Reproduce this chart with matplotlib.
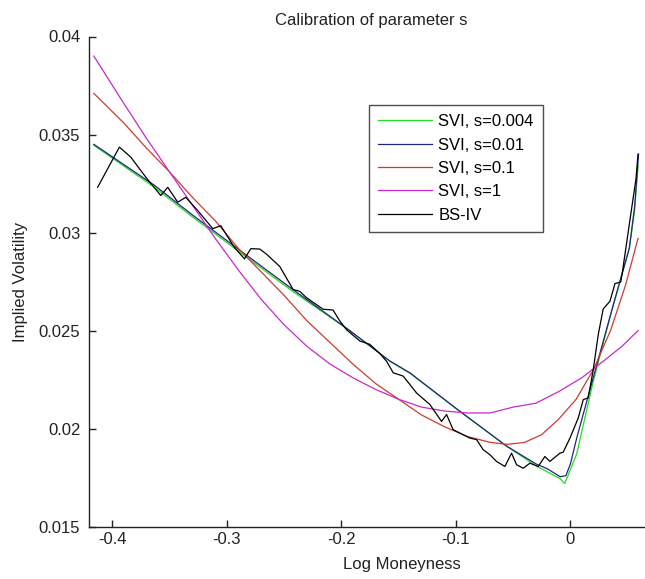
import matplotlib
matplotlib.use("Agg")
import matplotlib.pyplot as plt

plt.rcParams['font.family'] = ['Liberation Sans', 'DejaVu Sans']

# ---- data ----
k_svi = [-0.416, -0.3629, -0.3300, -0.2886, -0.2424, -0.1926, -0.1576, -0.1402,
         -0.0991, -0.0555, -0.0300, -0.0092, -0.0050, 0.0054, 0.0199, 0.0360,
         0.0514, 0.0560, 0.0590]
iv_s0004 = [0.03445, 0.0323, 0.0308, 0.0290, 0.0270, 0.0250, 0.02344, 0.02283,
            0.0210, 0.0191, 0.0181, 0.01746, 0.0172, 0.0187, 0.0224, 0.0260,
            0.0292, 0.0311, 0.0334]

k_s001 = [-0.416, -0.3629, -0.3300, -0.2886, -0.2424, -0.1926, -0.1576, -0.1402,
          -0.0991, -0.0555, -0.0300, -0.0200, -0.0090, -0.0040, 0.0000, 0.0054,
          0.0199, 0.0364, 0.0514, 0.0560, 0.0595]
iv_s001 = [0.03450, 0.0324, 0.0309, 0.0291, 0.0271, 0.0250, 0.02345, 0.02285,
           0.0210, 0.0191, 0.0182, 0.01795, 0.01755, 0.0176, 0.0182, 0.0195,
           0.0226, 0.0261, 0.0292, 0.0313, 0.0340]

k_grid = [-0.416, -0.39, -0.37, -0.35, -0.33, -0.31, -0.29, -0.27, -0.25, -0.23,
          -0.21, -0.19, -0.17, -0.15, -0.13, -0.11, -0.09, -0.07, -0.055, -0.04,
          -0.025, -0.01, 0.005, 0.02, 0.035, 0.048, 0.059]
iv_s01 = [0.0371, 0.0356, 0.0343, 0.0331, 0.0318, 0.0306, 0.0292, 0.0280, 0.0268,
          0.0255, 0.0244, 0.0233, 0.0223, 0.0215, 0.0207, 0.0201, 0.0196, 0.0193,
          0.0192, 0.0193, 0.0197, 0.0205, 0.0215, 0.0230, 0.0250, 0.0273, 0.0297]

k_s1 = [-0.416, -0.39, -0.37, -0.35, -0.33, -0.31, -0.29, -0.27, -0.25, -0.23,
        -0.21, -0.19, -0.17, -0.15, -0.13, -0.11, -0.09, -0.07, -0.05, -0.03,
        -0.01, 0.01, 0.03, 0.045, 0.059]
iv_s1 = [0.0390, 0.0366, 0.0348, 0.0331, 0.0314, 0.0297, 0.0281, 0.0266, 0.0253,
         0.0242, 0.0233, 0.0226, 0.0220, 0.0215, 0.0211, 0.0209, 0.0208, 0.0208,
         0.0211, 0.0213, 0.0219, 0.0226, 0.0235, 0.0242, 0.0250]

k_bs = [-0.4127, -0.3937, -0.3838, -0.3707, -0.3576, -0.3515, -0.3428, -0.3358,
        -0.3253, -0.3122, -0.3052, -0.2933, -0.2845, -0.2790, -0.2712, -0.2653,
        -0.2537, -0.2421, -0.2362, -0.2304, -0.2159, -0.2072, -0.2013, -0.1955,
        -0.1838, -0.1751, -0.1664, -0.1605, -0.1547, -0.1460, -0.1343, -0.1227,
        -0.1125, -0.1081, -0.1024, -0.0936, -0.0878, -0.0819, -0.0762, -0.0703,
        -0.0645, -0.0572, -0.0514, -0.0470, -0.0412, -0.0354, -0.0281, -0.0223,
        -0.0179, -0.0092, -0.0063, -0.0004, 0.0068, 0.0112, 0.0155, 0.0199,
        0.0243, 0.0286, 0.0345, 0.0389, 0.0439, 0.0454, 0.0528, 0.0572, 0.0590]
iv_bs = [0.03231, 0.03436, 0.03385, 0.03283, 0.03189, 0.03231, 0.03155, 0.03180,
         0.03112, 0.03020, 0.03035, 0.02924, 0.02866, 0.02918, 0.02916, 0.02890,
         0.02827, 0.02710, 0.02700, 0.02668, 0.02609, 0.02605, 0.02549, 0.02505,
         0.02447, 0.02430, 0.02383, 0.02344, 0.02285, 0.02268, 0.02182, 0.02123,
         0.02037, 0.02072, 0.01995, 0.01969, 0.01952, 0.01944, 0.01893, 0.01867,
         0.01833, 0.01807, 0.01875, 0.01816, 0.01798, 0.01824, 0.01807, 0.01858,
         0.01833, 0.01875, 0.01880, 0.01952, 0.02054, 0.02148, 0.02157, 0.02300,
         0.02480, 0.02610, 0.02650, 0.02740, 0.02748, 0.02800, 0.03098, 0.03273,
         0.03400]

labels = ['SVI, s=0.004', 'SVI, s=0.01', 'SVI, s=0.1', 'SVI, s=1', 'BS-IV']
x_ticks = [-0.4, -0.3, -0.2, -0.1, 0]
x_tick_labels = ['-0.4', '-0.3', '-0.2', '-0.1', '0']
y_ticks = [0.015, 0.02, 0.025, 0.03, 0.035, 0.04]
y_tick_labels = ['0.015', '0.02', '0.025', '0.03', '0.035', '0.04']

# ---- figure ----
W, H = 645, 579
fig = plt.figure(figsize=(W / 100, H / 100), dpi=100)
ax_l, ax_r, ax_t, ax_b = 88.7, 645.0, 36.5, 526.7
ax = fig.add_axes([ax_l / W, 1 - ax_b / H, (ax_r - ax_l) / W, (ax_b - ax_t) / H])

lw = 0.9
ax.plot(k_svi, iv_s0004, color='#22dd22', lw=lw, label=labels[0])
ax.plot(k_s001, iv_s001, color='#24247f', lw=lw, label=labels[1])
ax.plot(k_grid, iv_s01, color='#cc3b33', lw=lw, label=labels[2])
ax.plot(k_s1, iv_s1, color='#c82ac8', lw=lw, label=labels[3])
ax.plot(k_bs, iv_bs, color='black', lw=lw, label=labels[4])

ax.set_xlim(-0.4205, 0.0651)
ax.set_ylim(0.015, 0.04)
ax.set_xticks(x_ticks)
ax.set_xticklabels(x_tick_labels)
ax.set_yticks(y_ticks)
ax.set_yticklabels(y_tick_labels)

for s in ['top', 'right']:
    ax.spines[s].set_visible(False)
for s in ['left', 'bottom']:
    ax.spines[s].set_linewidth(1.0)
    ax.spines[s].set_color('#222222')
ax.tick_params(direction='in', length=5, width=1.0, labelsize=12, colors='#222222')
ax.tick_params(axis='x', pad=4)
ax.tick_params(axis='y', pad=6)

fs = 12
ax.set_title('Calibration of parameter s', fontsize=fs, color='#222222',
             x=(371 - ax_l) / (ax_r - ax_l), y=1.0, pad=8)
ax.set_xlabel('Log Moneyness', fontsize=fs, color='#222222')
ax.xaxis.set_label_coords((402 - ax_l) / (ax_r - ax_l), -(565 - ax_b) / (ax_b - ax_t))
ax.xaxis.label.set_va('center')
ax.set_ylabel('Implied Volatility', fontsize=fs, color='#222222')
ax.yaxis.set_label_coords(-(ax_l - 20) / (ax_r - ax_l), 0.5)
ax.yaxis.label.set_va('center')

leg = ax.legend(loc='upper left',
                bbox_to_anchor=((369 - ax_l) / (ax_r - ax_l), 1 - (105 - ax_t) / (ax_b - ax_t)),
                borderaxespad=0, fontsize=fs, handlelength=3.2, handletextpad=0.4,
                labelspacing=0.5, borderpad=0.55, fancybox=False, frameon=True)
leg.get_frame().set_edgecolor('#222222')
leg.get_frame().set_linewidth(1.0)

fig.savefig('out.png', dpi=100)
